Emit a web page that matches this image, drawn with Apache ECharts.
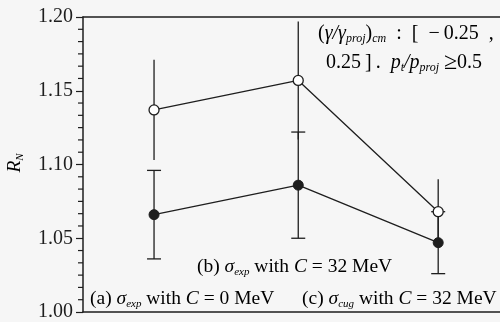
<!DOCTYPE html>
<html>
<head>
<meta charset="utf-8">
<script src="https://cdn.jsdelivr.net/npm/echarts@6/dist/echarts.min.js"></script>
<style>
  html, body { margin: 0; padding: 0; background: #f6f6f6; }
  #chart { width: 500px; height: 322px; }
</style>
</head>
<body>
<div id="chart"></div>
<script>
  // data
  var xPos = [1, 3.03, 5]
  var openVals = [1.137, 1.157, 1.068]
  var openErr = [0.034, 0.040, 0.022]
  var filledVals = [1.066, 1.086, 1.047]
  var filledErr = [0.030, 0.036, 0.021]
  var yMin = 1.0
  var yMax = 1.2
  var yStep = 0.05
  var yMinorSteps = 6

  var serif = '"Liberation Serif", "DejaVu Serif", serif'
  var ink = '#1e1e1e'

  function pairs (vals) {
    return xPos.map(function (x, i) { return [x, vals[i]] })
  }
  function errData (vals, errs) {
    return xPos.map(function (x, i) { return [x, vals[i], errs[i]] })
  }
  function errRender (withCap) {
    return function (params, api) {
      var x = api.value(0)
      var y = api.value(1)
      var e = api.value(2)
      var top = api.coord([x, y + e])
      var bot = api.coord([x, y - e])
      var st = { stroke: ink, lineWidth: 1.3 }
      var kids = [{ type: 'line', shape: { x1: top[0], y1: top[1], x2: bot[0], y2: bot[1] }, style: st }]
      if (withCap) {
        kids.push({ type: 'line', shape: { x1: top[0] - 7, y1: top[1], x2: top[0] + 7, y2: top[1] }, style: st })
        kids.push({ type: 'line', shape: { x1: bot[0] - 7, y1: bot[1], x2: bot[0] + 7, y2: bot[1] }, style: st })
      }
      return { type: 'group', children: kids }
    }
  }

  // minor tick values on the y axis
  var minorTicks = []
  for (var k = 1; k < Math.round((yMax - yMin) / yStep * yMinorSteps); k++) {
    if (k % yMinorSteps !== 0) minorTicks.push([0, yMin + k * yStep / yMinorSteps, 0])
  }
  function minorRender (params, api) {
    var p = api.coord([0, api.value(1)])
    return {
      type: 'group',
      children: [{
        type: 'line',
        shape: { x1: p[0] - 5, y1: p[1], x2: p[0], y2: p[1] },
        style: { stroke: ink, lineWidth: 1.2 }
      }]
    }
  }

  var rich = {
    n: { fontFamily: serif, fontSize: 19.5, color: ink },
    i: { fontFamily: serif, fontSize: 19.5, fontStyle: 'italic', color: ink },
    s: { fontFamily: serif, fontSize: 11, fontStyle: 'italic', color: ink, padding: [10, 0, 0, 0] },
    tn: { fontFamily: serif, fontSize: 20, color: ink },
    ti: { fontFamily: serif, fontSize: 20, fontStyle: 'italic', color: ink },
    ts: { fontFamily: serif, fontSize: 12, fontStyle: 'italic', color: ink, padding: [10, 0, 0, 0] },
    ge: { fontFamily: serif, fontSize: 24, color: ink }
  }
  function label (x, y, text) {
    return {
      type: 'text', x: x, y: y,
      style: { text: text, rich: rich, verticalAlign: 'middle', align: 'left' }
    }
  }

  var hidden = { show: false }
  var chart = echarts.init(document.getElementById('chart'))
  var option = {
    backgroundColor: '#f6f6f6',
    animation: false,
    grid: { left: 83, right: 0, top: 17, bottom: 4 },
    xAxis: [
      {
        type: 'value', min: 0, max: 5.87, position: 'bottom',
        axisLine: { show: true, onZero: false, lineStyle: { color: ink, width: 1.5 } },
        axisTick: hidden, axisLabel: hidden, splitLine: hidden
      },
      {
        type: 'value', min: 0, max: 5.87, position: 'top',
        axisLine: { show: true, onZero: false, lineStyle: { color: ink, width: 1.5 } },
        axisTick: hidden, axisLabel: hidden, splitLine: hidden
      }
    ],
    yAxis: {
      type: 'value', min: yMin, max: yMax, interval: yStep,
      axisLine: { show: true, onZero: false, lineStyle: { color: ink, width: 1.5 } },
      axisTick: { show: true, length: 7, lineStyle: { color: ink, width: 1.2 } },
      axisLabel: {
        margin: 10, fontFamily: serif, fontSize: 20, color: ink,
        formatter: function (v) { return v.toFixed(2) }
      },
      splitLine: hidden
    },
    series: [
      { type: 'custom', data: errData(openVals, openErr), renderItem: errRender(false), z: 1 },
      { type: 'custom', data: errData(filledVals, filledErr), renderItem: errRender(true), z: 1 },
      { type: 'custom', data: minorTicks, renderItem: minorRender, clip: false, silent: true, z: 5 },
      {
        type: 'line', data: pairs(openVals), symbol: 'circle', symbolSize: 10, z: 3,
        lineStyle: { color: ink, width: 1.3 },
        itemStyle: { color: '#ffffff', borderColor: ink, borderWidth: 1.3 }
      },
      {
        type: 'line', data: pairs(filledVals), symbol: 'circle', symbolSize: 10, z: 3,
        lineStyle: { color: ink, width: 1.3 },
        itemStyle: { color: ink, borderColor: ink, borderWidth: 1 }
      }
    ],
    graphic: [
      {
        type: 'text', x: 15, y: 163, rotation: Math.PI / 2,
        style: { text: '{i|R}{s|N}', rich: rich, align: 'center', verticalAlign: 'middle' }
      },
      label(318, 34, '{tn|(}{ti|γ/γ}{ts|proj}{tn|)}{ts|cm}{tn|\u2002:\u2002[\u2002−\u20090.25\u2002,}'),
      label(326, 63, '{tn|0.25\u2009]\u2009.\u2002}{ti|p}{ts|t}{ti|/p}{ts|proj}{ge|\u2009≥}{tn|0.5}'),
      label(197, 267, '{n|(b) }{i|σ}{s|exp}{n| with }{i|C}{n| = 32 MeV}'),
      label(90, 299, '{n|(a) }{i|σ}{s|exp}{n| with }{i|C}{n| = 0 MeV}'),
      label(302, 299, '{n|(c) }{i|σ}{s|cug}{n| with }{i|C}{n| = 32 MeV}')
    ]
  }
  chart.setOption(option)
</script>
</body>
</html>
